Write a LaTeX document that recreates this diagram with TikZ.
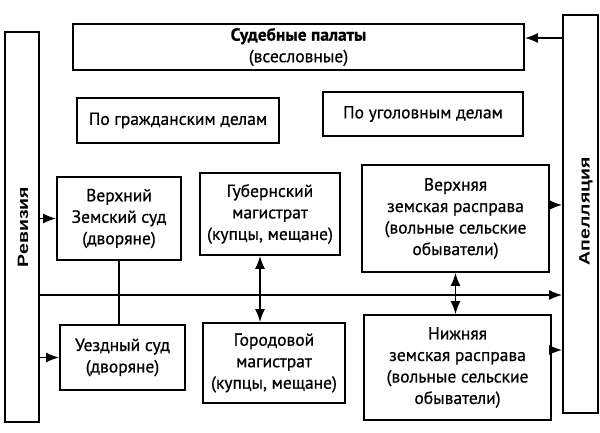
\documentclass[tikz,border=0pt]{standalone}
\usepackage{graphicx}
\usepackage{fontspec}
\setmainfont{PT Sans}
\newfontfamily\boxfont[FakeBold=0.7]{PT Sans}
\newfontfamily\lblfont{Liberation Sans}
\usetikzlibrary{arrows.meta}
\begin{document}
\begin{tikzpicture}[x=1pt,y=-1pt,
  box/.style={draw,line width=1.8pt,align=center,inner sep=0pt,
    font=\fontsize{17.5}{21.5}\boxfont},
  col/.style={draw,line width=1.8pt,inner sep=0pt},
  lbl/.style={rotate=90,inner sep=0pt,font=\fontsize{15}{18}\lblfont\bfseries},
  arr/.style={line width=1.6pt,-{Latex[length=13pt,width=10pt]}},
  darr/.style={line width=1.6pt,{Latex[length=13pt,width=10pt]}-{Latex[length=13pt,width=10pt]}},
  ln/.style={line width=1.6pt}]
\useasboundingbox (0,0) rectangle (600,432);
\node[col,minimum width=34pt,minimum height=390pt] (rev) at (22,227) {};
\node[lbl] (revt) at (23,227) {\scalebox{1.3}[1]{Ревизия}};
\node[col,minimum width=35pt,minimum height=398pt] (app) at (580.5,214) {};
\node[lbl] (appt) at (586,211) {\scalebox{1.3}[1]{Апелляция}};
\node[box,minimum width=451pt,minimum height=46pt] (sud) at (298.5,47)
  {\textbf{Судебные палаты}\\(всесловные)};
\node[box,minimum width=202pt,minimum height=45pt] (grazh) at (178,120.5) {По гражданским делам};
\node[box,minimum width=200pt,minimum height=44pt] (ugol) at (423,114) {По уголовным делам};
\node[box,minimum width=124pt,minimum height=83pt] (vz) at (119,218.5)
  {Верхний\\Земский суд\\(дворяне)};
\node[box,minimum width=140pt,minimum height=82pt] (gub) at (270,214)
  {Губернский\\магистрат\\(купцы, мещане)};
\node[box,minimum width=187pt,minimum height=107pt] (vzr) at (455.5,218.5)
  {Верхняя\\земская расправа\\(вольные сельские\\обыватели)};
\node[box,minimum width=125pt,minimum height=65pt] (uezd) at (122.5,357.5)
  {Уездный суд\\(дворяне)};
\node[box,minimum width=142pt,minimum height=80pt] (gor) at (274,363)
  {Городовой\\магистрат\\(купцы, мещане)};
\node[box,minimum width=187pt,minimum height=105pt] (nzr) at (457.5,367.5)
  {Нижняя\\земская расправа\\(вольные сельские\\обыватели)};
\coordinate (hl) at (300,295);
\coordinate (ta) at (540,38);
\coordinate (a1) at (555,205);
\coordinate (a2) at (555,350);
\coordinate (gx) at (260,300);
\draw[arr] (rev.east |- vz) -- (vz.west);
\draw[arr] (rev.east |- uezd) -- (uezd.west);
\draw[ln] (vz.south) -- (vz.south |- uezd.north);
\draw[arr] (rev.east |- hl) -- (app.west |- hl);
\draw[arr] (app.west |- ta) -- (sud.east |- ta);
\draw[arr] (vzr.east |- a1) -- (app.west |- a1);
\draw[arr] (nzr.east |- a2) -- (app.west |- a2);
\draw[darr] (gub.south -| gx) -- (gor.north -| gx);
\draw[darr] (vzr.south) -- (vzr.south |- nzr.north);
\end{tikzpicture}
\end{document}
